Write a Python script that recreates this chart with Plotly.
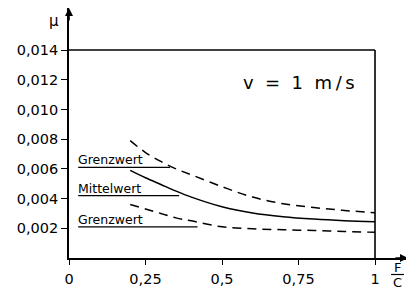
import plotly.graph_objects as go

# ---- data ----
x_upper = [0.2, 0.25, 0.3, 0.35, 0.4, 0.5, 0.6, 0.7, 0.8, 0.9, 1.0]
mu_upper = [0.0079, 0.0071, 0.0065, 0.0060, 0.0056, 0.0048, 0.0041, 0.00365, 0.0034, 0.0032, 0.00305]

x_mean = [0.2, 0.25, 0.3, 0.35, 0.4, 0.5, 0.6, 0.7, 0.8, 0.9, 1.0]
mu_mean = [0.0059, 0.0054, 0.00495, 0.0045, 0.0041, 0.00345, 0.00303, 0.00278, 0.00262, 0.00251, 0.00244]

x_lower = [0.2, 0.25, 0.3, 0.35, 0.4, 0.5, 0.6, 0.7, 0.8, 0.9, 1.0]
mu_lower = [0.0036, 0.0033, 0.0030, 0.0027, 0.0025, 0.0021, 0.00197, 0.0019, 0.00185, 0.00178, 0.00173]

label_names = ["Grenzwert", "Mittelwert", "Grenzwert"]
label_levels = [0.0061, 0.0042, 0.0021]
label_x0 = [0.03, 0.03, 0.03]
label_x1 = [0.33, 0.36, 0.42]

x_tickvals = [0, 0.25, 0.5, 0.75, 1]
x_ticktext = ["0", "0,25", "0,5", "0,75", "1"]
y_tickvals = [0.002, 0.004, 0.006, 0.008, 0.010, 0.012, 0.014]
y_ticktext = ["0,002", "0,004", "0,006", "0,008", "0,010", "0,012", "0,014"]

X_MAX = 1.1078
Y_MAX = 0.016827
FONT = "DejaVu Sans"

fig = go.Figure()
dash = "9px,6px"
fig.add_trace(go.Scatter(x=x_upper, y=mu_upper, mode="lines",
                         line=dict(color="black", width=1.5, dash=dash, shape="spline")))
fig.add_trace(go.Scatter(x=x_mean, y=mu_mean, mode="lines",
                         line=dict(color="black", width=1.5, shape="spline")))
fig.add_trace(go.Scatter(x=x_lower, y=mu_lower, mode="lines",
                         line=dict(color="black", width=1.5, dash=dash, shape="spline")))

# label lines
for name, lvl, a, b in zip(label_names, label_levels, label_x0, label_x1):
    fig.add_shape(type="line", x0=a, x1=b, y0=lvl, y1=lvl, xref="x", yref="y",
                  line=dict(color="black", width=1.3))
    fig.add_annotation(x=a, y=lvl, text=name, showarrow=False, xanchor="left",
                       yanchor="bottom", yshift=-2, xshift=-2,
                       font=dict(family=FONT, size=12.5, color="black"))

# box top and right
fig.add_shape(type="line", x0=0, x1=1, y0=0.014, y1=0.014, xref="x", yref="y",
              line=dict(color="black", width=1.6))
fig.add_shape(type="line", x0=1, x1=1, y0=0, y1=0.014, xref="x", yref="y",
              line=dict(color="black", width=1.6))

# axis arrows
fig.add_annotation(x=X_MAX, y=0, ax=-14, ay=0, xref="x", yref="y", text="",
                   showarrow=True, arrowhead=2, arrowsize=1, arrowwidth=1.6, arrowcolor="black")
fig.add_annotation(x=0, y=Y_MAX, ax=0, ay=14, xref="x", yref="y", text="",
                   showarrow=True, arrowhead=2, arrowsize=1, arrowwidth=1.6, arrowcolor="black")

# axis titles (paper coords)
fig.add_annotation(x=-0.0442, y=0.948, xref="paper", yref="paper", text="μ", showarrow=False,
                   xanchor="center", yanchor="middle",
                   font=dict(family=FONT, size=15, color="black"))
fig.add_annotation(x=0.9676, y=-0.036, xref="paper", yref="paper", text="F", showarrow=False,
                   xanchor="center", yanchor="middle",
                   font=dict(family=FONT, size=13, color="black"))
fig.add_annotation(x=0.9676, y=-0.098, xref="paper", yref="paper", text="C", showarrow=False,
                   xanchor="center", yanchor="middle",
                   font=dict(family=FONT, size=13, color="black"))
fig.add_shape(type="line", x0=0.95, x1=0.988, y0=-0.066, y1=-0.066, xref="paper", yref="paper",
              line=dict(color="black", width=1.2))

fig.add_annotation(x=0.752, y=0.01178, xref="x", yref="y",
                   text="v\u00a0\u00a0=\u00a0\u00a01\u00a0\u00a0m\u2009/\u2009s", showarrow=False,
                   xanchor="center", yanchor="middle",
                   font=dict(family=FONT, size=18, color="black"))

# the page body has an 8px margin, so the figure starts at (8, 8)
fig.update_layout(
    width=406, height=281,
    margin=dict(l=61, r=6, t=0, b=31, autoexpand=False),
    paper_bgcolor="white", plot_bgcolor="white",
    showlegend=False,
    font=dict(family=FONT, size=14, color="black"),
)
fig.update_xaxes(range=[0, X_MAX], showgrid=False, zeroline=False, showline=True,
                 linecolor="black", linewidth=1.8, ticks="outside", ticklen=5,
                 tickwidth=1.3, tickcolor="black", tickvals=x_tickvals, ticktext=x_ticktext,
                 automargin=False, ticklabelstandoff=2,
                 tickfont=dict(family=FONT, size=14.5, color="black"))
fig.update_yaxes(range=[0, Y_MAX], showgrid=False, zeroline=False, showline=True,
                 linecolor="black", linewidth=1.8, ticks="outside", ticklen=6,
                 tickwidth=1.3, tickcolor="black", tickvals=y_tickvals, ticktext=y_ticktext,
                 automargin=False,
                 tickfont=dict(family=FONT, size=14.5, color="black"))

fig.write_html("out.html")
